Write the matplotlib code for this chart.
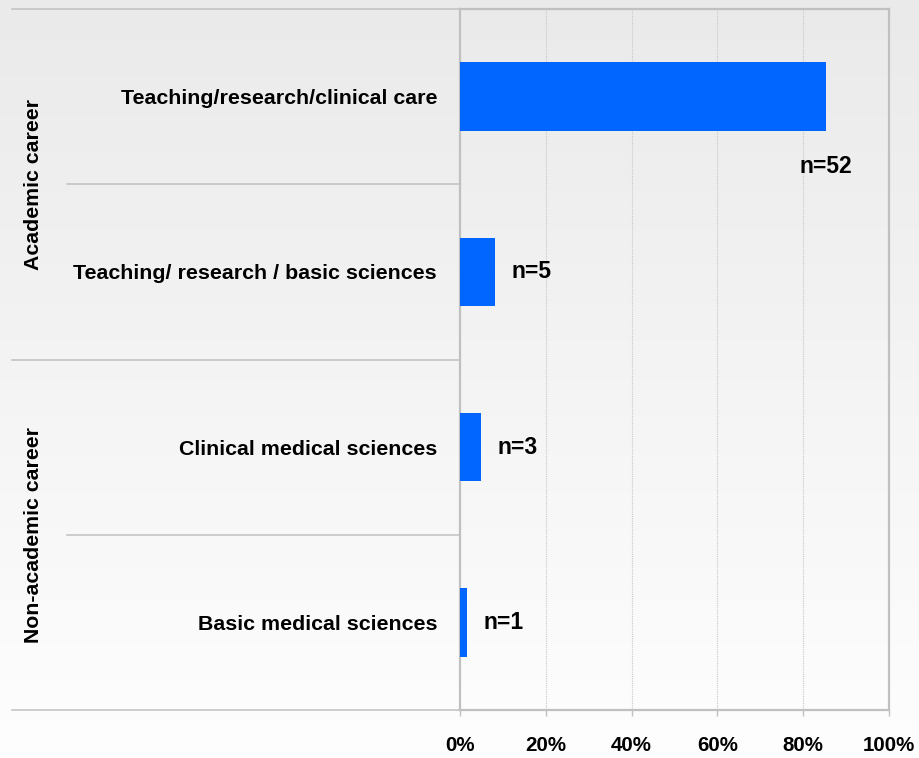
import numpy as np
import matplotlib
matplotlib.use('Agg')
import matplotlib.pyplot as plt
from matplotlib.colors import LinearSegmentedColormap
from matplotlib.transforms import blended_transform_factory

plt.rcParams['font.family'] = ['Liberation Sans', 'DejaVu Sans']
plt.rcParams['font.weight'] = 'bold'

# data
categories = ['Teaching/research/clinical care',
              'Teaching/ research / basic sciences',
              'Clinical medical sciences',
              'Basic medical sciences']
counts = [52, 5, 3, 1]
groups = ['Academic career', 'Non-academic career']
group_rows = [(0, 1), (2, 3)]
xticks = [0, 20, 40, 60, 80, 100]

total = sum(counts)
pct = [100 * c / total for c in counts]
ypos = np.arange(len(categories))

fig = plt.figure(figsize=(9.19, 7.58), dpi=100)

# gradient background
bg = fig.add_axes([0, 0, 1, 1], zorder=-1)
grad = np.linspace(0, 1, 256).reshape(-1, 1)
cmap = LinearSegmentedColormap.from_list('bg', ['#eaeaea', '#fefefe'])
bg.imshow(grad, aspect='auto', cmap=cmap, extent=[0, 1, 0, 1])
bg.axis('off')

ax = fig.add_axes([460/919, 48/758, 429/919, 701/758])
ax.patch.set_alpha(0)

ax.barh(ypos, pct, height=0.39, color='#0066ff', zorder=3)
ax.set_xlim(0, 100)
ax.set_ylim(3.5, -0.5)

for s in ax.spines.values():
    s.set_color('#c0c0c0')
    s.set_linewidth(1.6)

for x in xticks[1:-1]:
    ax.axvline(x, color='#c8c8c8', ls=(0, (1, 1)), lw=0.8, zorder=1)

ax.set_xticks(xticks)
ax.set_xticklabels([f'{t}%' for t in xticks], fontsize=14.8, fontweight='bold')
ax.tick_params(axis='x', length=4.5, color='#c0c0c0', width=1, pad=14.5)

ax.set_yticks(ypos)
ax.set_yticklabels(categories, fontsize=15.4, fontweight='bold')
ax.tick_params(axis='y', length=0, pad=16.5)

# n labels
for i, (p, c) in enumerate(zip(pct, counts)):
    if p > 50:
        ax.annotate(f'n={c}', (p, i), xytext=(0, -50), textcoords='offset points',
                    ha='center', va='center', fontsize=16.5, fontweight='bold')
    else:
        ax.annotate(f'n={c}', (p, i), xytext=(11.5, 0), textcoords='offset points',
                    ha='left', va='center', fontsize=16.5, fontweight='bold')

# separators and group labels
tr = blended_transform_factory(ax.transAxes, ax.transData)
for g, (a, b) in zip(groups, group_rows):
    ax.plot([-1.044, 0], [a - 0.5, a - 0.5], transform=tr, color='#c0c0c0',
            lw=1.1, clip_on=False)
    ax.plot([-0.916, 0], [b - 0.5, b - 0.5], transform=tr, color='#c0c0c0',
            lw=1.1, clip_on=False)
    ax.text(-0.995, (a + b) / 2, g, transform=tr, rotation=90, ha='center',
            va='center', fontsize=15.3, fontweight='bold')
ax.plot([-1.044, 0], [3.5, 3.5], transform=tr, color='#c0c0c0', lw=1.1, clip_on=False)

fig.savefig('out.png', dpi=100)
